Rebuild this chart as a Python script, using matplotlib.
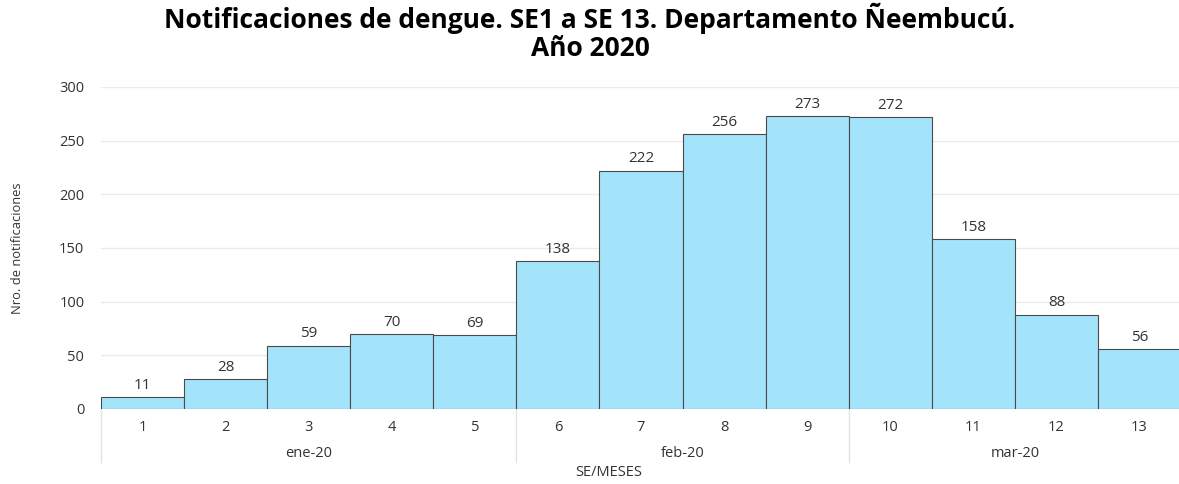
import matplotlib
matplotlib.use("Agg")
import matplotlib.pyplot as plt

semanas = ["1", "2", "3", "4", "5", "6", "7", "8", "9", "10", "11", "12", "13"]
notificaciones = [11, 28, 59, 70, 69, 138, 222, 256, 273, 272, 158, 88, 56]
meses = ["ene-20", "feb-20", "mar-20"]
semanas_por_mes = [5, 4, 4]

plt.rcParams['font.family'] = ['Open Sans', 'DejaVu Sans']

fig = plt.figure(figsize=(11.79, 4.84), dpi=100)
ax = fig.add_axes([101 / 1179, 75 / 484, 1080 / 1179, 322 / 484])

x = list(range(len(semanas)))
bars = ax.bar(x, notificaciones, width=1.0, color='#a4e4fb', edgecolor='#4a4a4a', linewidth=0.8, zorder=3)
for xi, v in zip(x, notificaciones):
    ax.text(xi, v + 4, str(v), ha='center', va='bottom', fontsize=11, color='#333333')

ax.set_xlim(-0.5, len(semanas) - 0.5)
ax.set_ylim(0, 300)
ax.set_yticks(range(0, 301, 50))
ax.tick_params(axis='y', length=0, labelsize=10.5, colors='#333333', pad=12)
ax.grid(axis='y', color='#ebebeb', linewidth=1, zorder=0)
for s in ax.spines.values():
    s.set_visible(False)

ax.set_xticks(x)
ax.set_xticklabels(semanas)
ax.tick_params(axis='x', length=0, labelsize=10.5, colors='#333333', pad=8)

# month groups under the week labels
trans = ax.get_xaxis_transform()
inicio = 0
bordes = [inicio]
for mes, n in zip(meses, semanas_por_mes):
    centro = inicio + (n - 1) / 2
    ax.text(centro, -0.137, mes, transform=trans, ha='center', va='center', fontsize=10.5, color='#333333')
    inicio += n
    bordes.append(inicio)
for b in bordes[:-1]:
    ax.plot([b - 0.5, b - 0.5], [0, -0.165], transform=trans, color='#e3e3e3', linewidth=1, clip_on=False)

fig.text(609 / 1179, 473 / 484 * 0 + (484 - 473) / 484, "SE/MESES", ha='center', va='center', fontsize=10.5, color='#333333')
fig.text(18 / 1179, (484 - 248) / 484, "Nro. de notificaciones", rotation=90, ha='center', va='center', fontsize=9.3, color='#333333')

fig.suptitle("Notificaciones de dengue. SE1 a SE 13. Departamento Ñeembucú.\nAño 2020",
             x=590 / 1179, y=0.995, fontsize=19, fontweight='bold', linespacing=1.05)

fig.savefig("out.png", dpi=100)
